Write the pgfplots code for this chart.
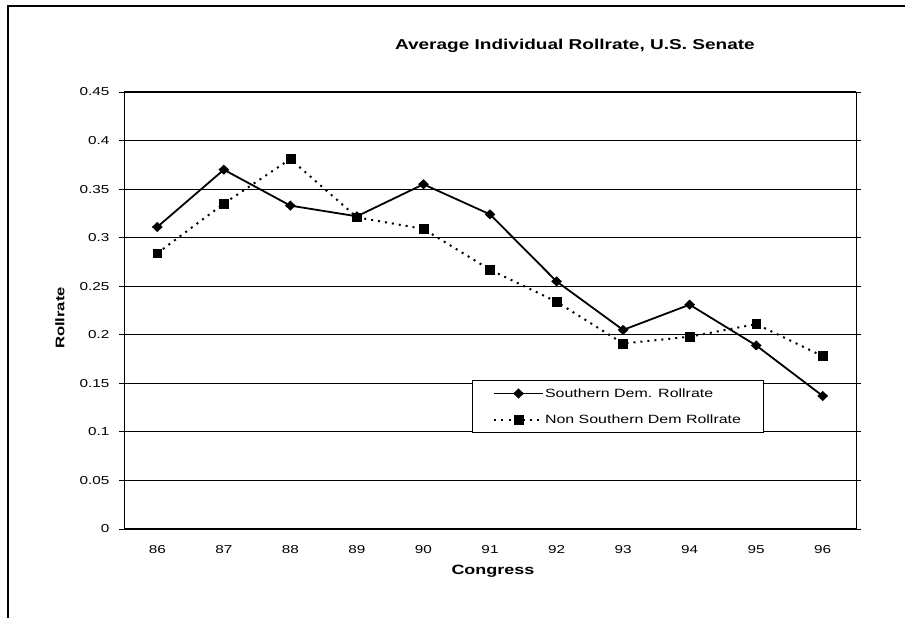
\documentclass[border=0pt]{standalone}
\usepackage{fontspec}
\setmainfont{Liberation Sans}
\usepackage{graphicx}
\usepackage{pgfplots}
\pgfplotsset{compat=1.18}
% the scan is stretched sideways, so the text is too
\newcommand{\sx}[1]{\scalebox{1.33}[1]{#1}}
\begin{document}
\begin{tikzpicture}
\useasboundingbox (0pt,0pt) rectangle (905pt,-618pt);
\draw[line width=2pt] (8pt,-618pt) -- (8pt,-6pt) -- (905pt,-6pt);
\begin{axis}[
    at={(124pt,-529pt)}, anchor=south west,
    scale only axis,
    width=732pt, height=437pt,
    xmin=85.5, xmax=96.5,
    ymin=0, ymax=0.45,
    xtick={86,87,88,89,90,91,92,93,94,95,96},
    xticklabels={\sx{86},\sx{87},\sx{88},\sx{89},\sx{90},\sx{91},\sx{92},\sx{93},\sx{94},\sx{95},\sx{96}},
    ytick={0,0.05,0.1,0.15,0.2,0.25,0.3,0.35,0.4,0.45},
    yticklabels={\sx{0},\sx{0.05},\sx{0.1},\sx{0.15},\sx{0.2},\sx{0.25},\sx{0.3},\sx{0.35},\sx{0.4},\sx{0.45}},
    ticklabel style={font=\fontsize{11.5}{13}\selectfont},
    xticklabel style={yshift=-8pt},
    yticklabel style={xshift=-6pt},
    xtick style={draw=none},
    ytick style={black, line width=1pt},
    tick align=outside,
    major tick length=5pt,
    ymajorgrids=true,
    grid style={black, line width=1.2pt},
    axis line style={line width=1pt},
    title={\sx{Average Individual Rollrate, U.S. Senate}},
    title style={font=\fontsize{14.3}{16}\selectfont\bfseries,
        at={(axis description cs:0.616,1.093)}, anchor=center},
    xlabel={\sx{Congress}},
    xlabel style={font=\fontsize{13.5}{16}\selectfont\bfseries,
        at={(axis description cs:0.504,-0.096)}, anchor=center},
    ylabel={\sx{Rollrate}},
    ylabel style={font=\fontsize{12.5}{15}\selectfont\bfseries,
        at={(axis description cs:-0.0874,0.483)}, anchor=center},
    legend style={at={(0.4754,0.340)}, anchor=north west,
        draw=black, line width=1pt, fill=white,
        inner xsep=21pt, inner ysep=6pt, row sep=13pt,
        font=\fontsize{12}{14}\selectfont,
        nodes={inner sep=1.5pt}},
    legend cell align=left,
    legend image code/.code={
        \draw[mark repeat=2, mark phase=2, #1]
            plot coordinates {(0pt,0pt) (24pt,0pt) (48pt,0pt)};},
]
\draw[line width=2pt] (rel axis cs:0,1) -- (rel axis cs:0,0) -- (rel axis cs:1,0);
\addplot[black, line width=1.8pt, mark=diamond*, mark size=4pt,
    mark options={solid, xscale=1.35, yscale=0.95}]
coordinates {
    (86,0.311)(87,0.370)(88,0.333)(89,0.322)(90,0.355)(91,0.324)
    (92,0.255)(93,0.205)(94,0.231)(95,0.189)(96,0.137)
};
\addlegendentry{\sx{Southern Dem. Rollrate}}
\addplot[black, line width=2pt, dash pattern=on 2pt off 5pt,
    mark=square*, mark size=4.4pt, mark options={solid, line width=0.5pt}]
coordinates {
    (86,0.284)(87,0.335)(88,0.381)(89,0.321)(90,0.309)(91,0.267)
    (92,0.234)(93,0.191)(94,0.198)(95,0.211)(96,0.178)
};
\addlegendentry{\sx{Non Southern Dem Rollrate}}
\end{axis}
\end{tikzpicture}
\end{document}
